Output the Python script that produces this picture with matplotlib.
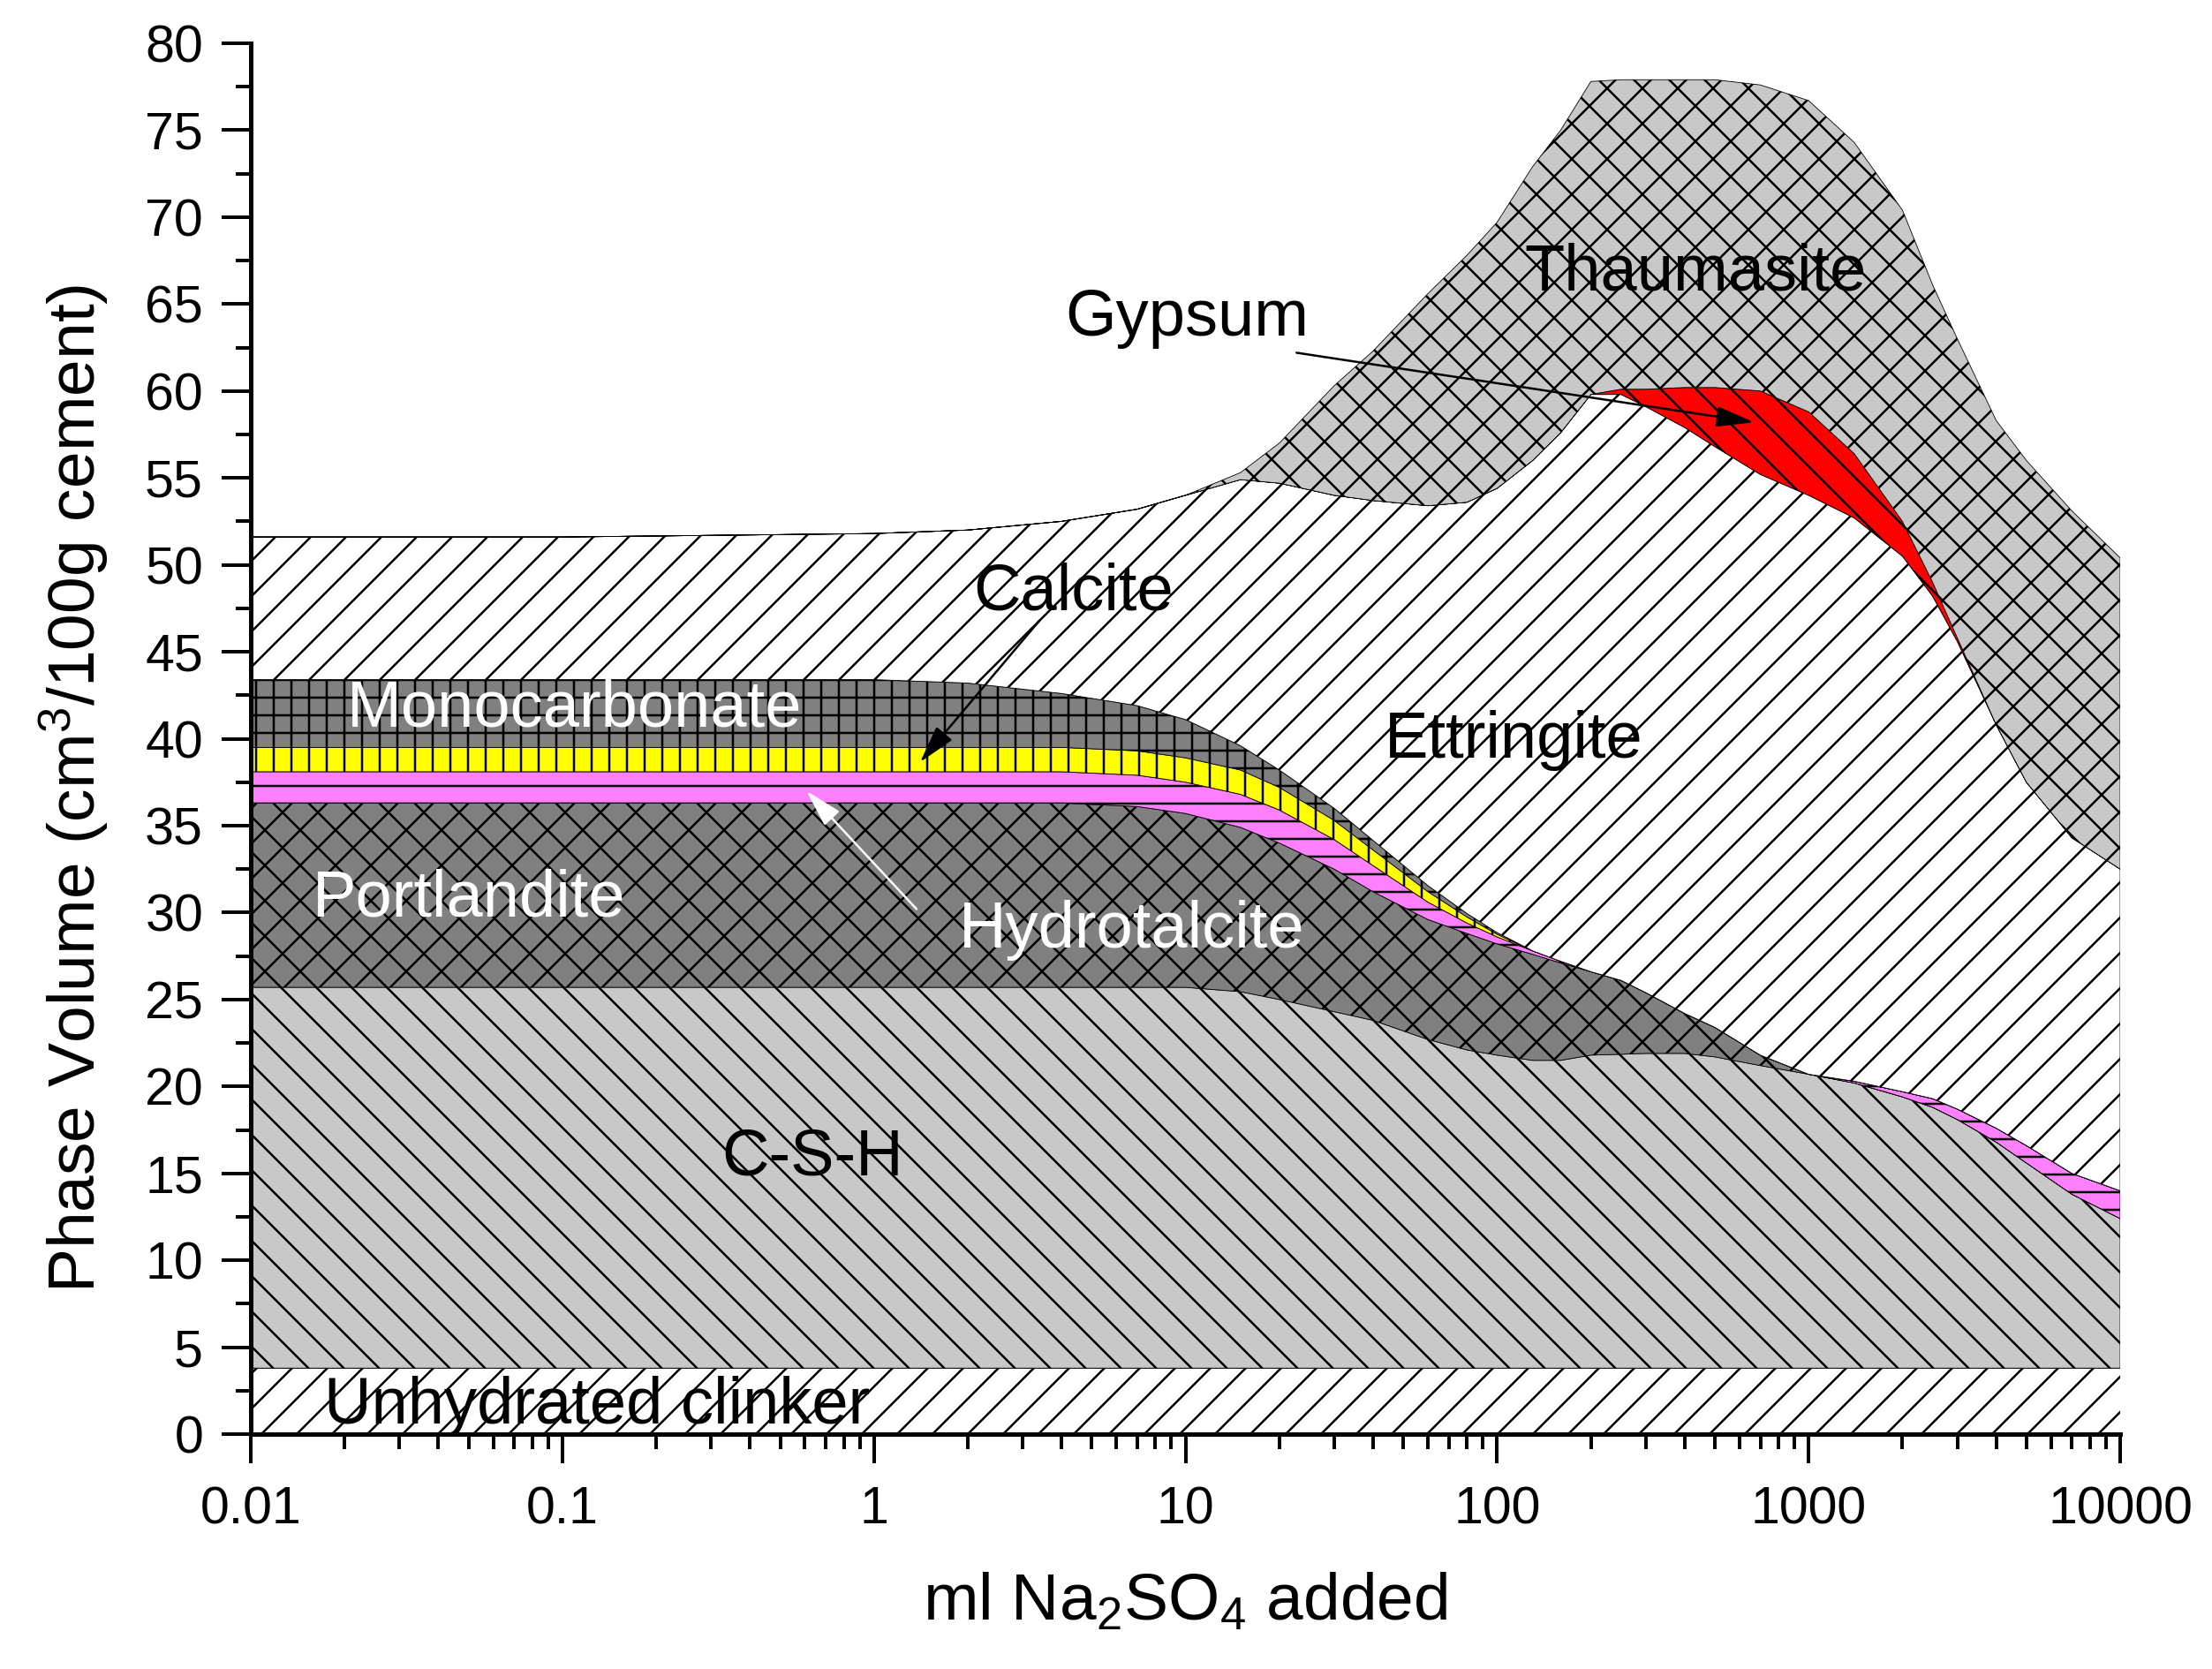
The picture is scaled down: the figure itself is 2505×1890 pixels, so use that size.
import numpy as np
import matplotlib
matplotlib.use('Agg')
import matplotlib.pyplot as plt
from matplotlib.ticker import LogLocator, NullFormatter, MultipleLocator

plt.rcParams['font.family'] = ['Liberation Sans', 'DejaVu Sans']
plt.rcParams['mathtext.fontset'] = 'custom'
plt.rcParams['mathtext.rm'] = 'Liberation Sans'
plt.rcParams['mathtext.it'] = 'Liberation Sans:italic'
plt.rcParams['mathtext.default'] = 'regular'
plt.rcParams['hatch.linewidth'] = 1.5
plt.rcParams['hatch.color'] = 'black'

# ---------------- data (phase volumes, cm3/100g cement) ----------------
na2so4_ml = [0.01, 0.1, 1, 2, 4, 7, 10, 15, 20, 30, 40, 60, 80, 100, 130, 160,
             200, 250, 300, 400, 500, 700, 1000, 1400, 2000, 2500, 3000, 4000,
             5000, 7000, 10000]

unhydrated_clinker = [3.8, 3.8, 3.8, 3.8, 3.8, 3.8, 3.8, 3.8, 3.8, 3.8, 3.8,
                      3.8, 3.8, 3.8, 3.8, 3.8, 3.8, 3.8, 3.8, 3.8, 3.8, 3.8,
                      3.8, 3.8, 3.8, 3.8, 3.8, 3.8, 3.8, 3.8, 3.8]
csh = [21.9, 21.9, 21.9, 21.9, 21.9, 21.9, 21.9, 21.65, 21.2, 20.5, 20.0, 18.9,
       18.3, 18.0, 17.7, 17.7, 18.0, 18.05, 18.1, 18.1, 17.9, 17.4, 16.9, 16.4,
       15.6, 15.0, 14.3, 13.0, 11.8, 10.0, 8.6]
portlandite = [10.6, 10.6, 10.6, 10.6, 10.6, 10.4, 10.0, 9.45, 9.0, 8.2, 7.4,
               6.9, 6.7, 6.4, 6.1, 5.6, 4.8, 4.25, 3.5, 2.3, 1.7, 0.6, 0, 0, 0,
               0, 0, 0, 0, 0, 0]
hydrotalcite = [1.8, 1.8, 1.8, 1.8, 1.8, 1.8, 1.8, 1.9, 1.9, 1.7, 1.5, 1.0,
                0.6, 0.4, 0.2, 0.1, 0, 0, 0, 0, 0, 0, 0, 0.1, 0.3, 0.5, 0.6,
                0.8, 1.0, 1.2, 1.6]
calcite = [1.4, 1.4, 1.4, 1.4, 1.4, 1.4, 1.4, 1.4, 1.3, 1.1, 0.9, 0.6, 0.35,
           0.15, 0, 0, 0, 0, 0, 0, 0, 0, 0, 0, 0, 0, 0, 0, 0, 0, 0]
monocarbonate = [3.9, 3.9, 3.9, 3.7, 3.1, 2.6, 2.2, 1.4, 1.0, 0.7, 0.55, 0.35,
                 0.2, 0.1, 0, 0, 0, 0, 0, 0, 0, 0, 0, 0, 0, 0, 0, 0, 0, 0, 0]
ettringite = [8.2, 8.2, 8.4, 8.8, 9.9, 11.3, 12.9, 15.3, 16.5, 18.0, 19.55,
              21.85, 23.65, 25.55, 28.2, 30.4, 33.2, 33.7, 33.7, 33.7, 33.4,
              33.4, 33.3, 32.4, 30.8, 28.9, 26.9, 23.2, 20.9, 19.3, 18.5]
gypsum = [0, 0, 0, 0, 0, 0, 0, 0, 0, 0, 0, 0, 0, 0, 0, 0, 0, 0.3, 1.0, 2.3,
          3.4, 4.8, 4.8, 3.7, 2.0, 0.8, 0.2, 0, 0, 0, 0]
thaumasite = [0, 0, 0, 0, 0, 0, 0, 0.4, 2.3, 6.3, 8.6, 12.2, 14.2, 15.3, 16.9,
              17.4, 18.0, 17.8, 17.8, 17.7, 17.7, 17.6, 17.9, 17.9, 17.9, 17.1,
              17.2, 17.5, 18.5, 18.8, 17.9]

phase_names = ['Unhydrated clinker', 'C-S-H', 'Portlandite', 'Hydrotalcite',
               'Calcite', 'Monocarbonate', 'Ettringite', 'Gypsum', 'Thaumasite']
phase_values = [unhydrated_clinker, csh, portlandite, hydrotalcite, calcite,
                monocarbonate, ettringite, gypsum, thaumasite]

x_tick_values = [0.01, 0.1, 1, 10, 100, 1000, 10000]
x_tick_labels = ['0.01', '0.1', '1', '10', '100', '1000', '10000']
y_tick_values = list(range(0, 81, 5))

# ---------------- styles ----------------
face_colors = ['white', '#c8c8c8', '#808080', '#ff80ff', '#ffff00',
               '#808080', 'white', '#ff0000', '#c8c8c8']
hatches = ['/', '\\', 'x', '-', '|', '+', '/', '\\', 'x']

fig = plt.figure(figsize=(2505 / 120, 1890 / 120), dpi=120)
ax = fig.add_axes([0.1134, 0.1407, 0.8451, 0.8334])

x = np.array(na2so4_ml, dtype=float)
stack = np.cumsum(np.vstack([np.array(v, dtype=float) for v in phase_values]), axis=0)
lower = np.zeros_like(x)
for i in range(len(phase_values)):
    upper = stack[i]
    ax.fill_between(x, lower, upper, facecolor=face_colors[i], edgecolor='black',
                    hatch=hatches[i], linewidth=0.5, zorder=1)
    lower = upper

ax.set_xscale('log')
ax.set_xlim(0.01, 10000)
ax.set_ylim(0, 80)
ax.set_xticks(x_tick_values)
ax.set_xticklabels(x_tick_labels)
ax.xaxis.set_minor_locator(LogLocator(base=10, subs=np.arange(2, 10), numticks=100))
ax.xaxis.set_minor_formatter(NullFormatter())
ax.set_yticks(y_tick_values)
ax.yaxis.set_minor_locator(MultipleLocator(2.5))

for s in ['top', 'right']:
    ax.spines[s].set_visible(False)
for s in ['left', 'bottom']:
    ax.spines[s].set_linewidth(3)
    ax.spines[s].set_zorder(5)

ax.tick_params(which='major', length=19.8, width=2.4, direction='out', labelsize=35.5)
ax.tick_params(which='minor', length=10, width=2.4, direction='out')
ax.tick_params(axis='x', which='major', pad=15)
ax.tick_params(axis='y', which='major', pad=12.6)

ax.set_ylabel('Phase Volume (cm$^3$/100g cement)', fontsize=45)
ax.yaxis.set_label_coords(-0.075, 0.464)
ax.set_xlabel('ml Na$_2$SO$_4$ added', fontsize=45)
ax.xaxis.set_label_coords(0.5, -0.099)

# ---------------- labels ----------------
labels = [
    ('Thaumasite', 434, 65.8, 'black'),
    ('Gypsum', 10.1, 63.2, 'black'),
    ('Calcite', 4.37, 47.4, 'black'),
    ('Monocarbonate', 0.1097, 40.7, 'white'),
    ('Ettringite', 113, 38.9, 'black'),
    ('Portlandite', 0.0501, 29.8, 'white'),
    ('Hydrotalcite', 6.7, 28.0, 'white'),
    ('C-S-H', 0.635, 14.9, 'black'),
    ('Unhydrated clinker', 0.129, 0.6, 'black'),
]
for txt, lx, ly, col in labels:
    ax.text(lx, ly, txt, ha='center', va='baseline', fontsize=44.5, color=col, zorder=6)

arrows = [
    ((667, 58.2), (22.7, 62.2), 'black'),
    ((1.406, 38.65), (3.40, 46.8), 'black'),
    ((0.607, 37.0), (1.37, 30.2), 'white'),
]
for tip, start, col in arrows:
    ax.annotate('', xy=tip, xytext=start, zorder=6,
                arrowprops=dict(arrowstyle='-|>,head_length=1.1,head_width=0.3',
                                color=col, lw=1.5, mutation_scale=20,
                                shrinkA=0, shrinkB=0))

fig.savefig('out.png', dpi=120)
